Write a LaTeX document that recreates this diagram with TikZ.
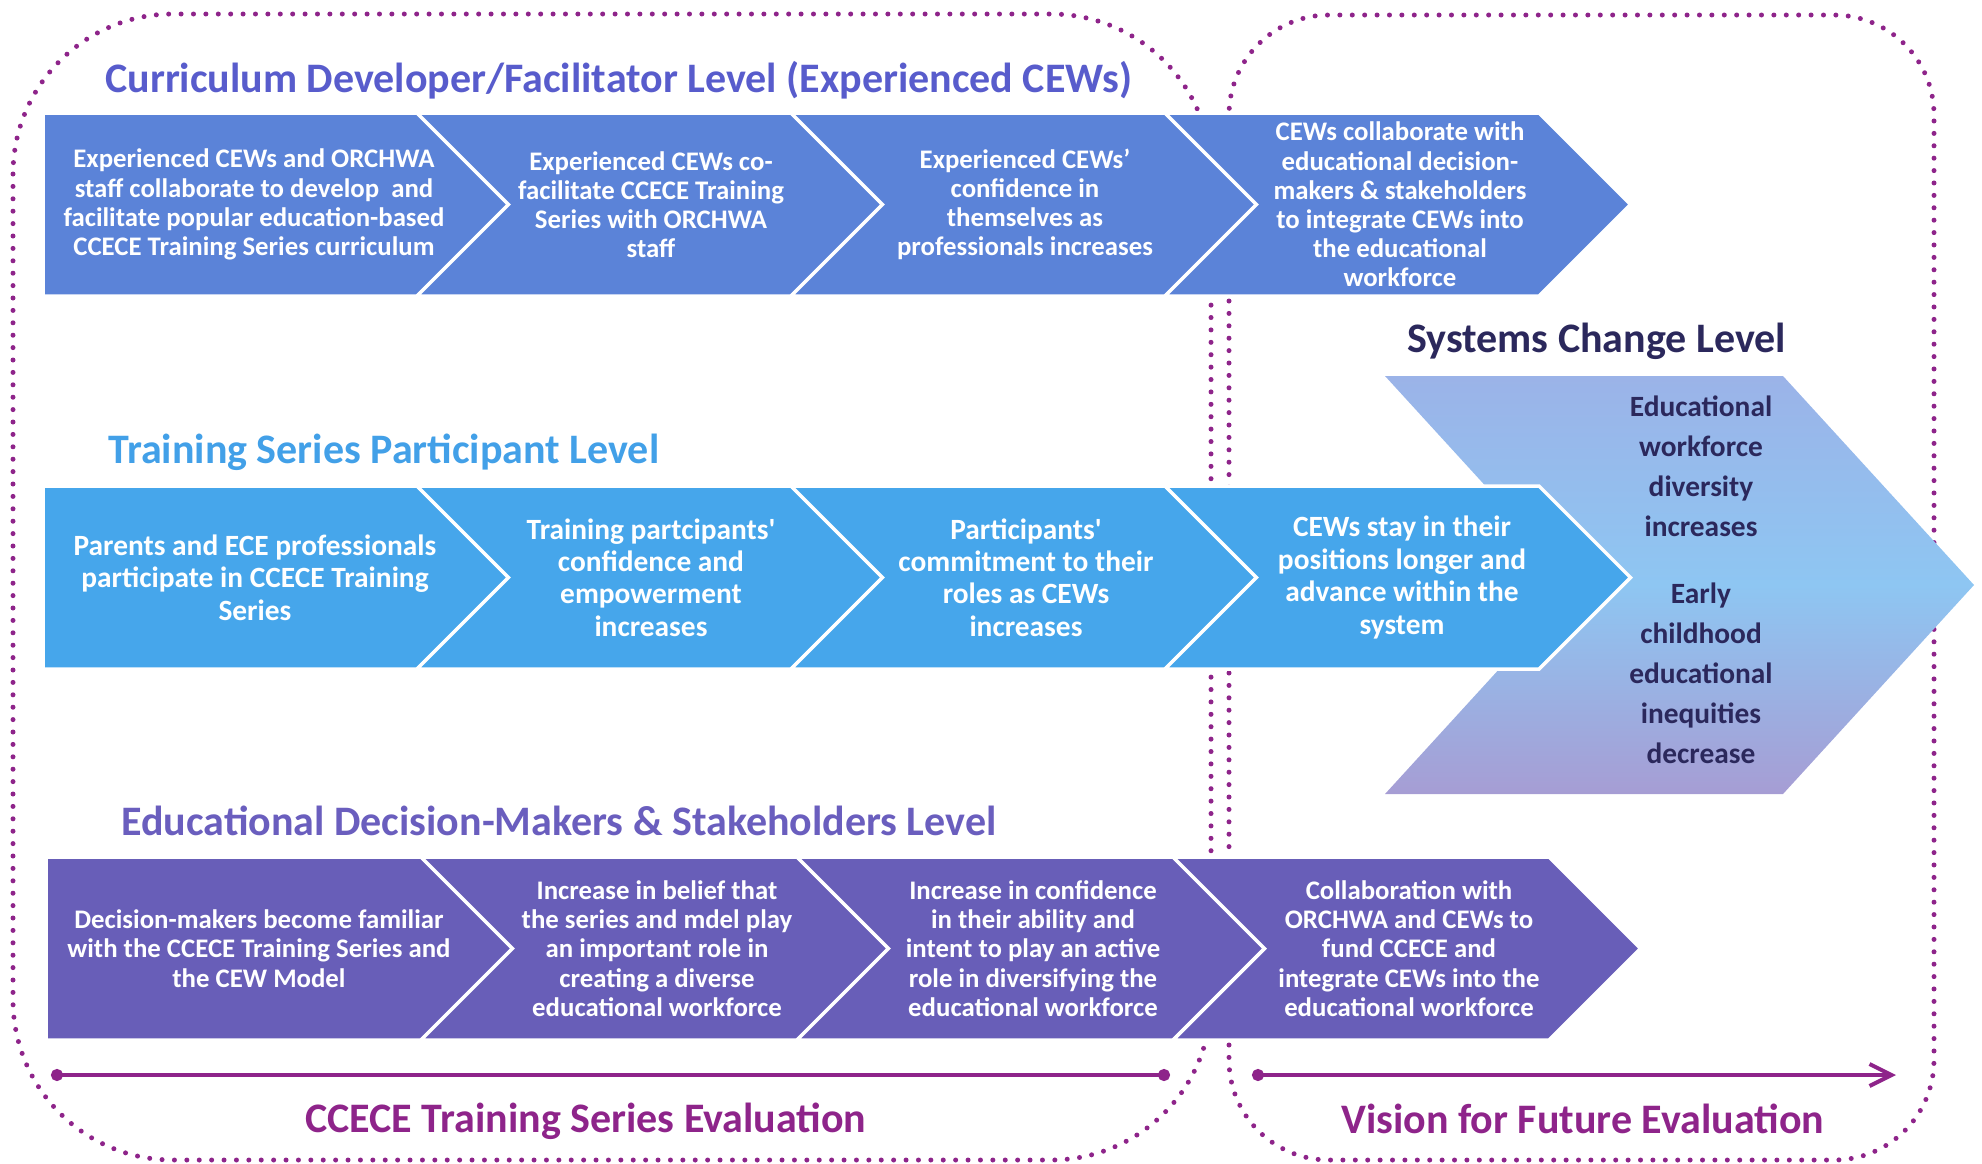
\documentclass[tikz,border=0pt]{standalone}
\usepackage{fontspec}
\setmainfont{Carlito}[Ligatures=TeXOff]
\usepackage{tikz}
\usetikzlibrary{arrows.meta}
\definecolor{cRowA}{RGB}{91,131,216}
\definecolor{cRowB}{RGB}{70,166,235}
\definecolor{cRowC}{RGB}{104,94,184}
\definecolor{cSysTop}{RGB}{155,179,232}
\definecolor{cSysMid}{RGB}{142,198,242}
\definecolor{cSysBot}{RGB}{166,157,212}
\definecolor{cNavy}{RGB}{43,40,92}
\definecolor{cPlum}{RGB}{142,36,138}
\definecolor{cTitleA}{RGB}{88,92,204}
\definecolor{cTitleB}{RGB}{66,160,232}
\definecolor{cTitleC}{RGB}{106,94,190}
\tikzset{
    chev/.style      ={draw=white, line width=1.75pt, line join=miter},
    chevtext/.style  ={text=white, font=\fontsize{13.4}{14.6}\selectfont\bfseries, align=center, inner sep=0pt},
    bigtext/.style   ={chevtext, font=\fontsize{14.7}{16.2}\selectfont\bfseries},
    systext/.style   ={text=cNavy, font=\fontsize{14.7}{20}\selectfont\bfseries, align=center, inner sep=0pt},
    leveltitle/.style={font=\fontsize{21}{25}\selectfont\bfseries, anchor=base west, inner sep=0pt},
    evalbox/.style   ={draw=cPlum, line width=2.5pt, line cap=round, dash pattern=on 0pt off 6.2pt},
    timeline/.style  ={draw=cPlum, line width=2pt},
}
% chevron: fill, left x, right x, top y, bottom y, notch depth
\newcommand{\chevron}[6]{%
    \filldraw[chev, fill=#1] (#2,#4) -- (#3,#4) -- ({#3+(#5-#4)/2},{(#4+#5)/2}) -- (#3,#5)
        -- (#2,#5) -- ({#2+#6},{(#4+#5)/2}) -- cycle;}

\begin{document}
\begin{tikzpicture}[x=0.5pt, y=-0.5pt]
    \useasboundingbox (0,0) rectangle (1982,1163);

    % the two evaluation frames
    \draw[evalbox, rounded corners=80pt] (13,14) rectangle (1211,1160);
    \draw[evalbox, rounded corners=50pt] (1229,15) rectangle (1934,1160);

    % systems change arrow sits behind the middle row (middle color last, or it gets reset)
    \shade[top color=cSysTop, bottom color=cSysBot, middle color=cSysMid]
        (1385,376) -- (1783,376) -- (1974,585) -- (1783,794) -- (1385,794) -- (1576,585) -- cycle;

    % curriculum developer row
    \chevron{cRowA}{43}{417}{113}{296}{0}
    \chevron{cRowA}{417}{791}{113}{296}{91.5}
    \chevron{cRowA}{791}{1165}{113}{296}{91.5}
    \chevron{cRowA}{1165}{1539}{113}{296}{91.5}
    % participant row
    \chevron{cRowB}{43}{417}{486}{669}{0}
    \chevron{cRowB}{417}{791}{486}{669}{91.5}
    \chevron{cRowB}{791}{1165}{486}{669}{91.5}
    \chevron{cRowB}{1165}{1539}{486}{669}{91.5}
    % decision-makers row
    \chevron{cRowC}{46}{421}{857}{1040}{0}
    \chevron{cRowC}{421}{797}{857}{1040}{91.5}
    \chevron{cRowC}{797}{1173}{857}{1040}{91.5}
    \chevron{cRowC}{1173}{1549}{857}{1040}{91.5}

    \node[leveltitle, text=cTitleA] (cdTitle) at (105,92) {Curriculum Developer/Facilitator Level (Experienced CEWs)};
    \node[chevtext] (cdA) at (254,204.5) {Experienced CEWs and ORCHWA\\staff collaborate to develop~ and\\facilitate popular education-based\\CCECE Training Series curriculum};
    \node[chevtext] (cdB) at (651,204.5) {Experienced CEWs co-\\facilitate CCECE Training\\Series with ORCHWA\\staff};
    \node[chevtext] (cdC) at (1025,204.5) {Experienced CEWs’\\confidence in\\themselves as\\professionals increases};
    \node[chevtext] (cdD) at (1400,204.5) {CEWs collaborate with\\educational decision-\\makers \& stakeholders\\to integrate CEWs into\\the educational\\workforce};

    \node[leveltitle, text=cTitleB] (tpTitle) at (108,463) {Training Series Participant Level};
    \node[bigtext] (tpA) at (255,577.5) {Parents and ECE professionals\\participate in CCECE Training\\Series};
    \node[bigtext] (tpB) at (651,577.5) {Training partcipants'\\confidence and\\empowerment\\increases};
    \node[bigtext] (tpC) at (1026,577.5) {Participants'\\commitment to their\\roles as CEWs\\increases};
    \node[bigtext] (tpD) at (1402,577.5) {CEWs stay in their\\positions longer and\\advance within the\\system};

    \node[leveltitle, text=cTitleC] (dmTitle) at (121,835) {Educational Decision-Makers \& Stakeholders Level};
    \node[chevtext] (dmA) at (259,948.5) {Decision-makers become familiar\\with the CCECE Training Series and\\the CEW Model};
    \node[chevtext] (dmB) at (657,948.5) {Increase in belief that\\the series and mdel play\\an important role in\\creating a diverse\\educational workforce};
    \node[chevtext] (dmC) at (1033,948.5) {Increase in confidence\\in their ability and\\intent to play an active\\role in diversifying the\\educational workforce};
    \node[chevtext] (dmD) at (1409,948.5) {Collaboration with\\ORCHWA and CEWs to\\fund CCECE and\\integrate CEWs into the\\educational workforce};

    \node[leveltitle, text=cNavy] (sysTitle) at (1407,352) {Systems Change Level};
    \node[systext] (sysA) at (1701,466) {Educational\\workforce\\diversity\\increases};
    \node[systext] (sysB) at (1701,673) {Early\\childhood\\educational\\inequities\\decrease};

    % evaluation time lines
    \coordinate (evalStart) at (51,1075);
    \coordinate (evalEnd) at (1170,1075);
    \coordinate (visionStart) at (1252,1075);
    \coordinate (visionEnd) at (1896,1075);
    \draw[timeline, {Circle[length=6pt]}-{Circle[length=6pt]}] (evalStart) -- (evalEnd);
    \draw[timeline, {Circle[length=6pt]}-{Straight Barb[length=11pt, width=11pt]}] (visionStart) -- (visionEnd);

    \node[leveltitle, text=cPlum] (evalTitle) at (305,1132) {CCECE Training Series Evaluation};
    \node[leveltitle, text=cPlum] (visionTitle) at (1341,1133) {Vision for Future Evaluation};
\end{tikzpicture}
\end{document}
